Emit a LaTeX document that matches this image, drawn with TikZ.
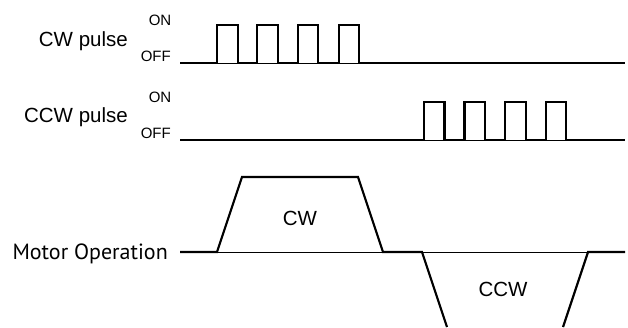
\documentclass[tikz,border=0pt]{standalone}
\usepackage{fontspec}
\setmainfont{Liberation Sans}
\newfontfamily\motorfont{PT Sans}
\tikzset{
  thickline/.style={line width=2.2pt, line join=miter, line cap=butt},
  thinline/.style={line width=0.8pt},
  biglabel/.style={inner sep=0pt, font=\fontsize{20.5}{23}\selectfont},
  smalllabel/.style={inner sep=0pt, font=\fontsize{15}{17}\selectfont},
  motorlabel/.style={inner sep=0pt, font=\motorfont\fontsize{22}{25}\selectfont},
  traplabel/.style={inner sep=0pt, font=\fontsize{20.5}{23}\selectfont},
}
\begin{document}
\begin{tikzpicture}[x=1pt,y=-1pt]
\useasboundingbox (0,0) rectangle (628,327);
% ---------- CW pulse ----------
\node[biglabel, anchor=base east] (cwlab) at (128,46) {CW pulse};
\node[smalllabel, anchor=base] (cwon) at (160,25) {ON};
\node[smalllabel, anchor=base east] (cwoff) at (171,61) {OFF};
\draw[thinline] (180,63) -- (625,63);
\draw[thickline] (180,63) -- (217,63) -- (217,25) -- (238,25) -- (238,63)
  -- (257,63) -- (257,25) -- (278,25) -- (278,63)
  -- (298,63) -- (298,25) -- (318,25) -- (318,63)
  -- (339,63) -- (339,25) -- (359,25) -- (359,63) -- (625,63);
\draw[white, line width=1.4pt] (218.2,63) -- (236.8,63) (258.2,63) -- (276.8,63)
  (299.2,63) -- (316.8,63) (340.2,63) -- (357.8,63);
\draw[thinline] (217,63) -- (359,63);
% ---------- CCW pulse ----------
\node[biglabel, anchor=base east] (ccwlab) at (128,122) {CCW pulse};
\node[smalllabel, anchor=base] (ccwon) at (160,102) {ON};
\node[smalllabel, anchor=base east] (ccwoff) at (171,138) {OFF};
\draw[thickline] (180,140) -- (424,140) -- (424,102) -- (444.5,102) -- (444.5,140)
  -- (464.5,140) -- (464.5,102) -- (485,102) -- (485,140)
  -- (505,140) -- (505,102) -- (526,102) -- (526,140)
  -- (546,140) -- (546,102) -- (566,102) -- (566,140) -- (625,140);
\draw[white, line width=1.4pt] (425.2,140) -- (443.3,140) (465.7,140) -- (483.8,140)
  (506.2,140) -- (524.8,140) (547.2,140) -- (564.8,140);
\draw[thinline] (424,140) -- (566,140);
% ---------- Motor operation ----------
\node[motorlabel, anchor=base east] (motorlab) at (168,259) {Motor Operation};
\draw[thinline] (217,252) -- (588,252);
\draw[thickline] (180,252) -- (217,252) -- (242,177) -- (358,177) -- (383,252)
  -- (422,252) -- (447,327);
\draw[thickline] (563,327) -- (588,252) -- (625,252);
\node[traplabel] (cwtxt) at (300,218) {CW};
\node[traplabel] (ccwtxt) at (503,289) {CCW};
\end{tikzpicture}
\end{document}
